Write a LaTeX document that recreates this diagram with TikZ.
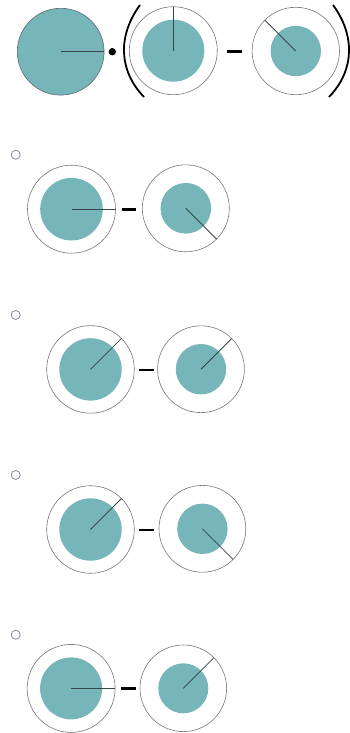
\documentclass[tikz,border=0pt]{standalone}
\definecolor{tealfill}{RGB}{118,181,185}
\definecolor{ringgray}{RGB}{118,118,118}
\definecolor{radiusline}{RGB}{55,70,72}
\definecolor{radiogray}{RGB}{150,148,165}
\begin{document}
\begin{tikzpicture}[x=1pt,y=-1pt,
  ring/.style={circle,draw=ringgray,line width=0.6pt,inner sep=0pt,outer sep=0pt,minimum size=#1},
  disc/.style={circle,fill=tealfill,inner sep=0pt,outer sep=0pt,minimum size=#1},
  bigdisc/.style={circle,fill=tealfill,draw=radiusline!80,line width=0.6pt,inner sep=0pt,outer sep=0pt,minimum size=#1},
  rad/.style={draw=radiusline,line width=0.8pt},
  minusbar/.style={rectangle,fill=black,inner sep=0pt,minimum width=14.5pt,minimum height=2.6pt},
  dotmark/.style={circle,fill=black,inner sep=0pt,minimum size=7.4pt},
  radio/.style={circle,draw=radiogray,line width=0.9pt,inner sep=0pt,minimum size=9pt},
  paren/.style={draw=black,line width=1.8pt}]
\useasboundingbox (0,0) rectangle (349,733);

% ---- top expression ----
\node[bigdisc=86.8pt] (big) at (60.7,51.7) {};
\draw[rad,line width=1.1pt] (big.center) -- (big.0);
\node[dotmark] (dot) at (112.3,51.7) {};
\coordinate (lpA) at (140,5);
\coordinate (lpB) at (144,97);
\draw[paren] (lpA) .. controls (118,35) and (118,70) .. (lpB);
\node[ring=88pt] (t2o) at (173.3,50.7) {};
\node[disc=62pt] (t2i) at (173.3,50.7) {};
\draw[rad] (t2i.center) -- (t2o.90);
\node[minusbar] (tm) at (234.3,51.7) {};
\node[ring=87.4pt] (t3o) at (295.8,51) {};
\node[disc=50.4pt] (t3i) at (295.8,51) {};
\draw[rad] (t3i.center) -- (t3o.135);
\coordinate (rpA) at (333,5);
\coordinate (rpB) at (329,97);
\draw[paren] (rpA) .. controls (355,35) and (355,70) .. (rpB);

% ---- option 1 ----
\node[radio] (r1) at (15.7,154.7) {};
\node[ring=88pt] (a1o) at (71.5,209.2) {};
\node[disc=62.6pt] (a1i) at (71.5,209.2) {};
\draw[rad] (a1i.center) -- (a1o.0);
\node[minusbar] (m1) at (128.8,209.5) {};
\node[ring=87pt] (b1o) at (185.8,208.3) {};
\node[disc=50.6pt] (b1i) at (185.8,208.3) {};
\draw[rad] (b1i.center) -- (b1o.-45);

% ---- option 2 ----
\node[radio] (r2) at (15.7,315) {};
\node[ring=87.6pt] (a2o) at (90.5,369.4) {};
\node[disc=62.4pt] (a2i) at (90.5,369.4) {};
\draw[rad] (a2i.center) -- (a2o.45);
\node[minusbar] (m2) at (146.7,370) {};
\node[ring=86.8pt] (b2o) at (201,369.2) {};
\node[disc=50.4pt] (b2i) at (201,369.2) {};
\draw[rad] (b2i.center) -- (b2o.45);

% ---- option 3 ----
\node[radio] (r3) at (15.7,475) {};
\node[ring=87.6pt] (a3o) at (90.5,529.5) {};
\node[disc=62.4pt] (a3i) at (90.5,529.5) {};
\draw[rad] (a3i.center) -- (a3o.45);
\node[minusbar] (m3) at (146.7,530) {};
\node[ring=86.8pt] (b3o) at (202.4,528.8) {};
\node[disc=50.4pt] (b3i) at (202.4,528.8) {};
\draw[rad] (b3i.center) -- (b3o.-45);

% ---- option 4 ----
\node[radio] (r4) at (15.7,634.7) {};
\node[ring=88pt] (a4o) at (71.1,688.4) {};
\node[disc=62pt] (a4i) at (71.1,688.4) {};
\draw[rad] (a4i.center) -- (a4o.0);
\node[minusbar] (m4) at (128.5,688.6) {};
\node[ring=86.6pt] (b4o) at (183.3,688.3) {};
\node[disc=50pt] (b4i) at (183.3,688.3) {};
\draw[rad] (b4i.center) -- (b4o.45);
\end{tikzpicture}
\end{document}
